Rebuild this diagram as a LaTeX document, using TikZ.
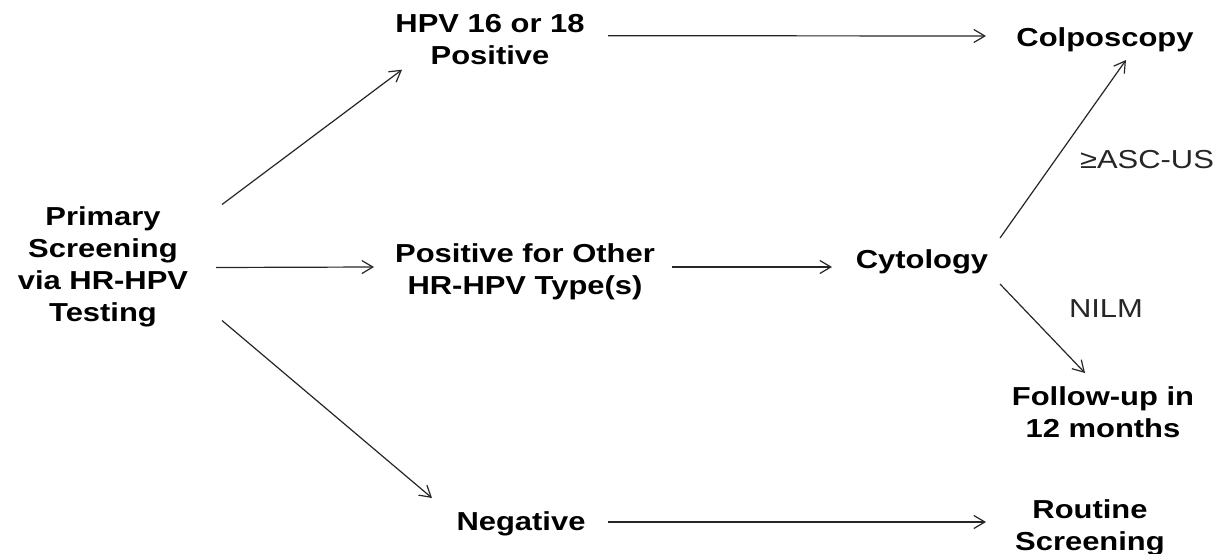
\documentclass[tikz,border=0pt]{standalone}
\usepackage{fontspec}
\setmainfont[FakeStretch=1.19]{Liberation Sans}
\usetikzlibrary{arrows.meta,calc}
\begin{document}
\begin{tikzpicture}[x=1pt,y=-1pt,
  box/.style={font=\fontsize{26}{32}\selectfont\bfseries, align=center, inner sep=0pt, text=black},
  lab/.style={font=\fontsize{26}{32}\selectfont, inner sep=0pt, text=black!85, anchor=base},
  arr/.style={draw=black!85, line width=1.2pt, -{Straight Barb[length=11pt,width=13pt,line width=1.2pt]}}]
\useasboundingbox (0,0) rectangle (1224,554);
\fill[white] (0,0) rectangle (1224,554);
% nodes
\node[box] (prim) at (103,266.5) {Primary\\Screening\\via HR-HPV\\Testing};
\node[box] (hpv) at (490,39.7) {HPV 16 or 18\\Positive};
\node[box, anchor=base] (colp) at (1105,46) {Colposcopy};
\node[box] (pos) at (525,272) {Positive for Other\\HR-HPV Type(s)};
\node[box, anchor=base] (cyt) at (922,268) {Cytology};
\node[box] (fol) at (1103,412.7) {Follow-up in\\12 months};
\node[box, anchor=base] (neg) at (521,530) {Negative};
\node[box] (rout) at (1090,527.5) {Routine\\Screening};
\node[lab] (asc) at (1147,168) {≥ASC-US};
\node[lab] (nilm) at (1106,317) {NILM};
% connectors
\draw[arr] ($(prim.center)+(119,-62)$) -- ($(hpv.center)+(-88,30)$);
\draw[arr] ($(prim.center)+(113,1)$) -- ($(pos.center)+(-151,-5)$);
\draw[arr] ($(prim.center)+(119,54)$) -- ($(neg.base)+(-89,-32)$);
\draw[arr] ($(hpv.center)+(118,-4)$) -- ($(colp.base)+(-119,-10)$);
\draw[arr] ($(pos.center)+(147,-5)$) -- ($(cyt.base)+(-90,-1)$);
\draw[arr] ($(cyt.base)+(78,-30)$) -- ($(colp.base)+(21,14)$);
\draw[arr] ($(cyt.base)+(78,16)$) -- ($(fol.center)+(-18,-39.7)$);
\draw[arr] ($(neg.base)+(87,-8)$) -- ($(rout.center)+(-104,-5.5)$);
\end{tikzpicture}
\end{document}
